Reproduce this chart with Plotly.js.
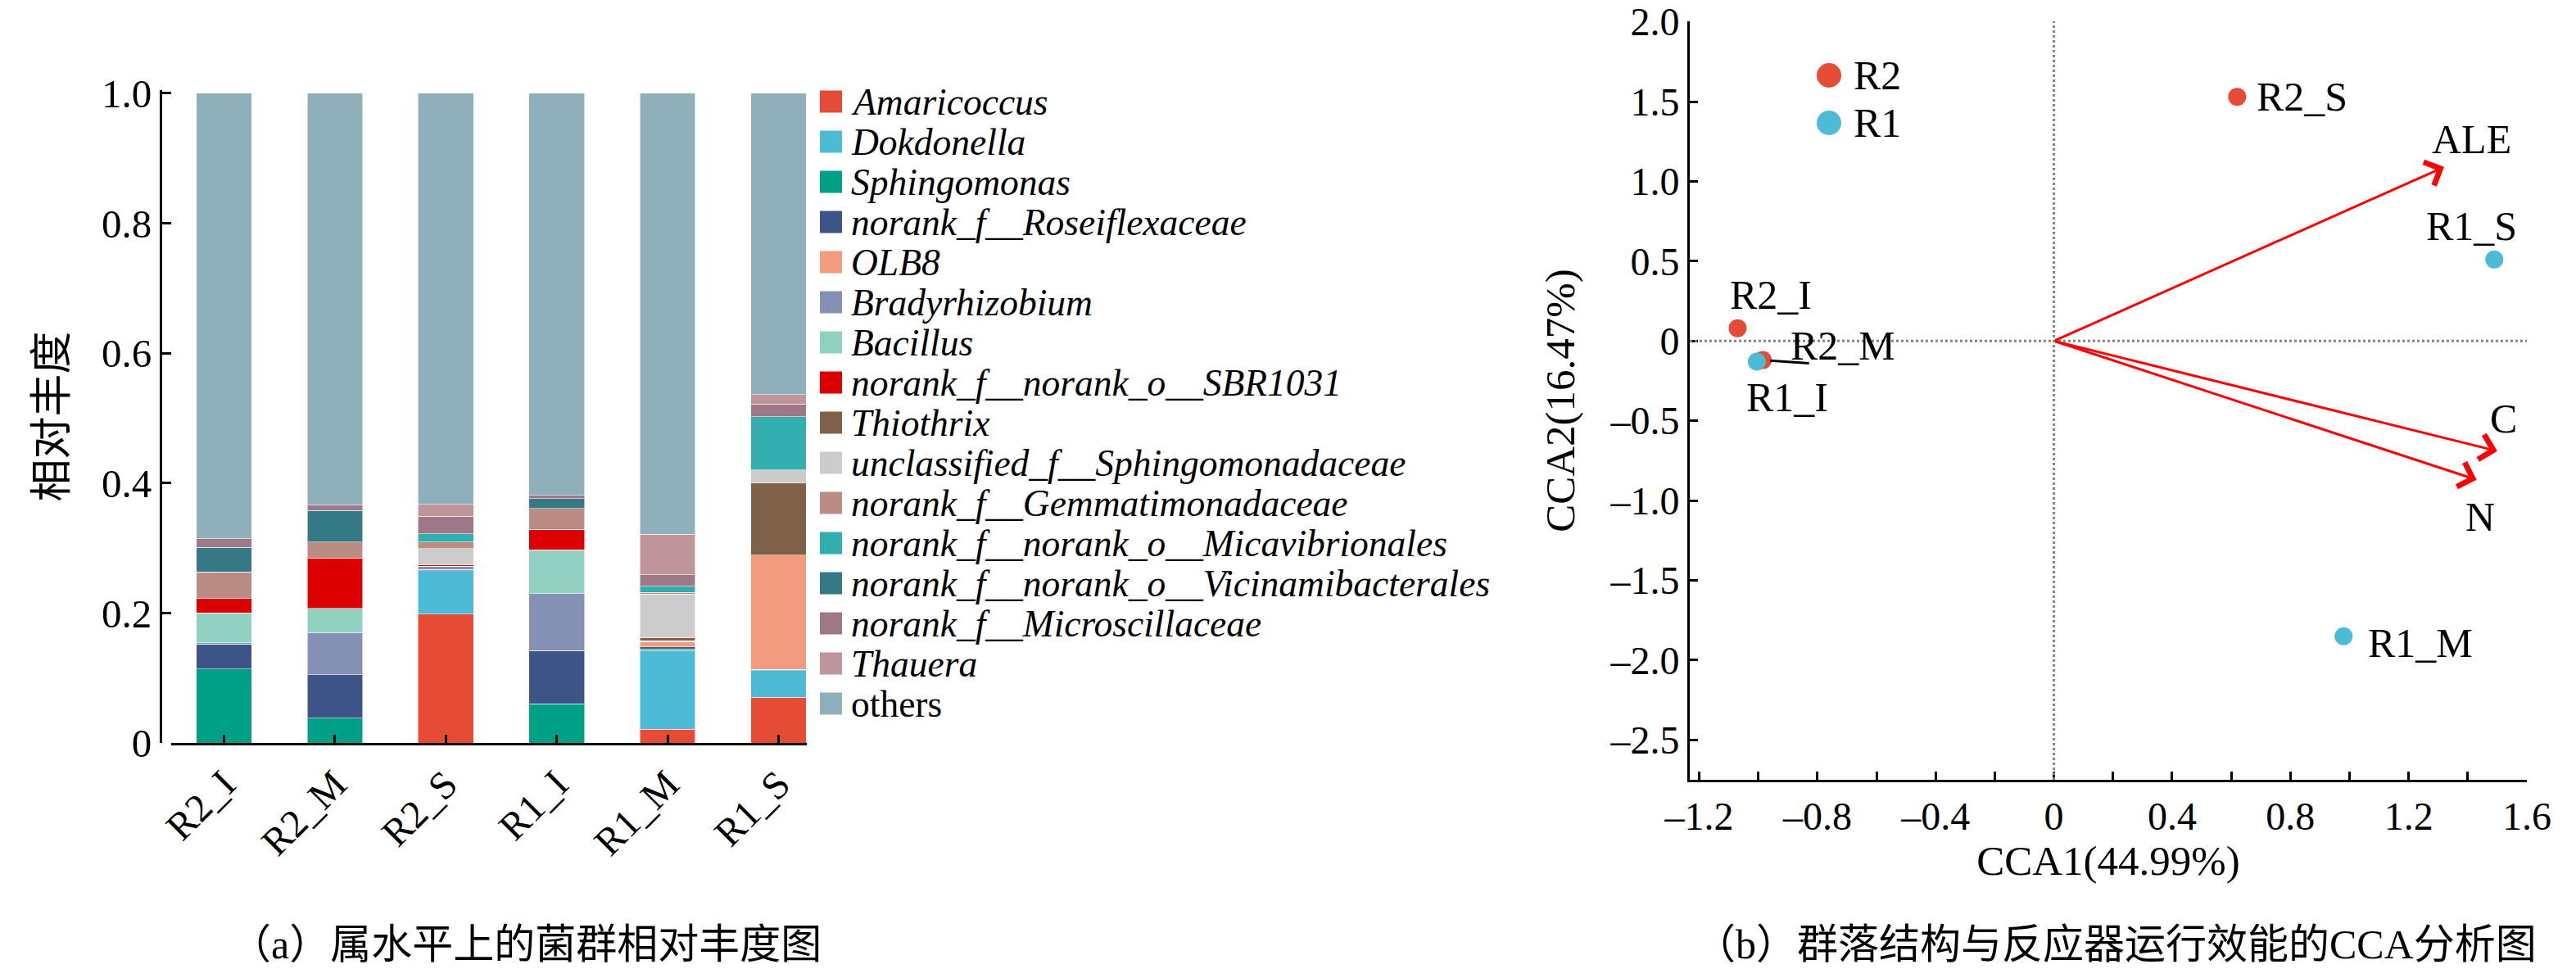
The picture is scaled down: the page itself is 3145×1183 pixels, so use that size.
<!DOCTYPE html>
<html>
<head>
<meta charset="utf-8">
<script src="https://cdn.plot.ly/plotly-3.0.1.min.js"></script>
<style>html,body{margin:0;padding:0;background:#fff;}#chart{width:3145px;height:1183px;}</style>
</head>
<body>
<div id="chart"></div>
<script>
// ---------- Data: panel (a) relative abundance ----------
const samples = ['R2_I', 'R2_M', 'R2_S', 'R1_I', 'R1_M', 'R1_S'];
const genera = [
  'Amaricoccus', 'Dokdonella', 'Sphingomonas', 'norank_f__Roseiflexaceae', 'OLB8',
  'Bradyrhizobium', 'Bacillus', 'norank_f__norank_o__SBR1031', 'Thiothrix',
  'unclassified_f__Sphingomonadaceae', 'norank_f__Gemmatimonadaceae',
  'norank_f__norank_o__Micavibrionales', 'norank_f__norank_o__Vicinamibacterales',
  'norank_f__Microscillaceae', 'Thauera', 'others'
];
const generaColors = [
  '#E64B35', '#4DBBD5', '#00A087', '#3C5488', '#F39B7F',
  '#8491B4', '#91D1C2', '#DC0000', '#7E6148',
  '#CCCCCC', '#BC8B83',
  '#33AEAE', '#357886',
  '#9F7888', '#C09599', '#8FB0BB'
];
const amaricoccus        = [0,     0,     0.198, 0,     0.021, 0.070];
const dokdonella         = [0,     0,     0.067, 0,     0.121, 0.041];
const sphingomonas       = [0.114, 0.038, 0,     0.060, 0.003, 0.002];
const roseiflexaceae     = [0.038, 0.067, 0.002, 0.082, 0.003, 0];
const olb8               = [0,     0,     0,     0,     0.008, 0.176];
const bradyrhizobium     = [0.002, 0.065, 0.005, 0.088, 0.001, 0];
const bacillus           = [0.046, 0.037, 0,     0.067, 0,     0];
const sbr1031            = [0.022, 0.077, 0.002, 0.032, 0,     0];
const thiothrix          = [0,     0,     0,     0,     0.005, 0.111];
const unclSphingomonad   = [0,     0,     0.025, 0,     0.067, 0.020];
const gemmatimonadaceae  = [0.041, 0.025, 0.010, 0.032, 0.003, 0];
const micavibrionales    = [0,     0,     0.013, 0,     0.009, 0.082];
const vicinamibacterales = [0.038, 0.049, 0,     0.015, 0,     0];
const microscillaceae    = [0.013, 0.008, 0.027, 0.005, 0.018, 0.020];
const thauera            = [0,     0,     0.018, 0,     0.062, 0.014];
const others             = [0.686, 0.634, 0.633, 0.619, 0.679, 0.464];
const abundance = [amaricoccus, dokdonella, sphingomonas, roseiflexaceae, olb8,
  bradyrhizobium, bacillus, sbr1031, thiothrix, unclSphingomonad, gemmatimonadaceae,
  micavibrionales, vicinamibacterales, microscillaceae, thauera, others];
const yTickVals = [0, 0.2, 0.4, 0.6, 0.8, 1.0];
const yTickText = ['0', '0.2', '0.4', '0.6', '0.8', '1.0'];

// ---------- Data: panel (b) CCA ----------
const r2Names = ['R2_I', 'R2_M', 'R2_S'];
const r2X = [-1.07, -0.985, 0.62];
const r2Y = [0.08, -0.12, 1.53];
const r1Names = ['R1_I', 'R1_M', 'R1_S'];
const r1X = [-1.005, 0.98, 1.49];
const r1Y = [-0.13, -1.85, 0.51];
const envNames = ['ALE', 'C', 'N'];
const envX = [1.32, 1.50, 1.43];
const envY = [1.09, -0.69, -0.87];
const ccaXTickVals = [-1.2, -1.0, -0.8, -0.6, -0.4, -0.2, 0, 0.2, 0.4, 0.6, 0.8, 1.0, 1.2, 1.4, 1.6];
const ccaXTickText = ['\u20131.2', '', '\u20130.8', '', '\u20130.4', '', '0', '', '0.4', '', '0.8', '', '1.2', '', '1.6'];
const ccaYTickVals = [2.0, 1.5, 1.0, 0.5, 0, -0.5, -1.0, -1.5, -2.0, -2.5];
const ccaYTickText = ['2.0', '1.5', '1.0', '0.5', '0', '\u20130.5', '\u20131.0', '\u20131.5', '\u20132.0', '\u20132.5'];

// ---------- Layout helpers ----------
const W = 3145, H = 1183;
const px = v => v / W;
const py = v => 1 - v / H;
const SERIF = "'Liberation Serif', 'Times New Roman', serif";
const CJK = "'Liberation Serif', 'Noto Sans CJK SC', serif";
const RED = '#E64B35', BLUE = '#4DBBD5', ARROW = '#FF0000';
const LABEL_SIZE = 50;

const traces = [];
genera.forEach((g, i) => {
  traces.push({
    type: 'bar', name: g, x: samples, y: abundance[i], width: 0.5,
    xaxis: 'x', yaxis: 'y',
    marker: { color: generaColors[i], line: { color: 'rgba(255,255,255,0.55)', width: 1 } },
    hoverinfo: 'skip'
  });
});
traces.push({
  type: 'scatter', mode: 'markers', name: 'R2', x: r2X, y: r2Y, xaxis: 'x2', yaxis: 'y2',
  marker: { color: RED, size: 22 }, hoverinfo: 'skip'
});
traces.push({
  type: 'scatter', mode: 'markers', name: 'R1', x: r1X, y: r1Y, xaxis: 'x2', yaxis: 'y2',
  marker: { color: BLUE, size: 22 }, hoverinfo: 'skip'
});

const shapes = [];
const annotations = [];

// manual legend (a)
genera.forEach((g, i) => {
  const cy = 124 + 49 * i;
  shapes.push({
    type: 'rect', xref: 'paper', yref: 'paper',
    x0: px(1001), x1: px(1028), y0: py(cy + 13.5), y1: py(cy - 13.5),
    fillcolor: generaColors[i], line: { width: 0 }
  });
  annotations.push({
    xref: 'paper', yref: 'paper', x: px(1037), y: py(cy), xanchor: 'left', yanchor: 'middle',
    text: g === 'others' ? g : '<i>' + g + '</i>', showarrow: false,
    font: { family: SERIF, size: 45.5, color: '#000' }
  });
});

// dotted zero lines (b)
shapes.push({ type: 'line', xref: 'x2', yref: 'y2 domain', x0: 0, x1: 0, y0: 0, y1: 1,
  line: { color: '#858585', width: 3, dash: 'dot' } });
shapes.push({ type: 'line', xref: 'x2 domain', yref: 'y2', x0: 0, x1: 1, y0: 0, y1: 0,
  line: { color: '#858585', width: 3, dash: 'dot' } });

// manual legend (b)
[['R2', RED, 92], ['R1', BLUE, 150]].forEach(([name, col, cy]) => {
  shapes.push({ type: 'circle', xref: 'paper', yref: 'paper',
    x0: px(2218), x1: px(2248), y0: py(cy + 15), y1: py(cy - 15),
    fillcolor: col, line: { width: 0 } });
  annotations.push({ xref: 'paper', yref: 'paper', x: px(2261), y: py(cy), xanchor: 'left', yanchor: 'middle',
    text: name, showarrow: false, font: { family: SERIF, size: LABEL_SIZE, color: '#000' } });
});

// environmental arrows
envNames.forEach((n, i) => {
  annotations.push({
    xref: 'x2', yref: 'y2', axref: 'x2', ayref: 'y2',
    x: envX[i], y: envY[i], ax: 0, ay: 0, text: '', showarrow: true,
    arrowhead: 4, arrowsize: 2, arrowwidth: 3, arrowcolor: ARROW
  });
});
const envLabelShift = { ALE: [34, 34], C: [8, 40], N: [4, -45] };
envNames.forEach((n, i) => {
  annotations.push({
    xref: 'x2', yref: 'y2', x: envX[i], y: envY[i], text: n, showarrow: false,
    xshift: envLabelShift[n][0], yshift: envLabelShift[n][1],
    font: { family: SERIF, size: LABEL_SIZE, color: '#000' }
  });
});

// sample labels
const labelStyle = {
  R2_I: { xanchor: 'center', xshift: 41, yshift: 41 },
  R2_M: { xanchor: 'center', xshift: 98, yshift: 18 },
  R2_S: { xanchor: 'left', xshift: 22, yshift: 0 },
  R1_I: { xanchor: 'center', xshift: 37, yshift: -43 },
  R1_M: { xanchor: 'left', xshift: 28, yshift: -8 },
  R1_S: { xanchor: 'center', xshift: -28, yshift: 41 }
};
[[r2Names, r2X, r2Y], [r1Names, r1X, r1Y]].forEach(([names, xs, ys]) => {
  names.forEach((n, i) => {
    const s = labelStyle[n];
    annotations.push({
      xref: 'x2', yref: 'y2', x: xs[i], y: ys[i], text: n, showarrow: false,
      xanchor: s.xanchor, yanchor: 'middle', xshift: s.xshift, yshift: s.yshift,
      font: { family: SERIF, size: LABEL_SIZE, color: '#000' }
    });
  });
});
// leader line for R2_M
annotations.push({
  xref: 'x2', yref: 'y2', x: r2X[1], y: r2Y[1], ax: 58, ay: 4, text: '',
  showarrow: true, arrowhead: 0, arrowwidth: 3, arrowcolor: '#000', standoff: 9
});

// captions
annotations.push({ xref: 'paper', yref: 'paper', x: px(642), y: py(1153), xanchor: 'center', yanchor: 'middle',
  text: '（a）属水平上的菌群相对丰度图', showarrow: false, font: { family: CJK, size: 50, color: '#000' } });
annotations.push({ xref: 'paper', yref: 'paper', x: px(2583), y: py(1153), xanchor: 'center', yanchor: 'middle',
  text: '（b）群落结构与反应器运行效能的CCA分析图', showarrow: false, font: { family: CJK, size: 50, color: '#000' } });

const axisCommon = {
  showline: true, linecolor: '#000', linewidth: 3, ticks: 'inside', tickcolor: '#000',
  tickwidth: 3, showgrid: false, zeroline: false, mirror: false, ticklabeloverflow: 'allow'
};

const layout = {
  width: W, height: H, margin: { l: 0, r: 0, t: 0, b: 0 },
  paper_bgcolor: '#fff', plot_bgcolor: '#fff', showlegend: false, barmode: 'stack',
  font: { family: SERIF, color: '#000' },
  xaxis: Object.assign({}, axisCommon, {
    domain: [px(209), px(985)], anchor: 'y', type: 'category', range: [-0.476, 5.255],
    ticklen: 10, tickangle: -45, tickfont: { family: SERIF, size: 48 }
  }),
  yaxis: Object.assign({}, axisCommon, {
    domain: [py(907), py(110)], anchor: 'free', position: px(196), range: [0, 1.005],
    tickvals: yTickVals, ticktext: yTickText, ticklen: 11,
    tickfont: { family: SERIF, size: 49 },
    title: { text: '相对丰度', font: { family: CJK, size: 52 }, standoff: 24 }
  }),
  xaxis2: Object.assign({}, axisCommon, {
    domain: [px(2063), px(3085)], anchor: 'y2', range: [-1.232, 1.6],
    tickvals: ccaXTickVals, ticktext: ccaXTickText, ticklen: 10,
    tickfont: { family: SERIF, size: 48 },
    title: { text: 'CCA1(44.99%)', font: { family: SERIF, size: 51 }, standoff: 8 }
  }),
  yaxis2: Object.assign({}, axisCommon, {
    domain: [py(952), py(26)], anchor: 'x2', range: [-2.75, 2.003],
    tickvals: ccaYTickVals, ticktext: ccaYTickText, ticklen: 10,
    tickfont: { family: SERIF, size: 48 },
    title: { text: 'CCA2(16.47%)', font: { family: SERIF, size: 51 }, standoff: 27 }
  }),
  shapes: shapes,
  annotations: annotations
};

Plotly.newPlot('chart', traces, layout, { staticPlot: true, displayModeBar: false });
</script>
</body>
</html>
